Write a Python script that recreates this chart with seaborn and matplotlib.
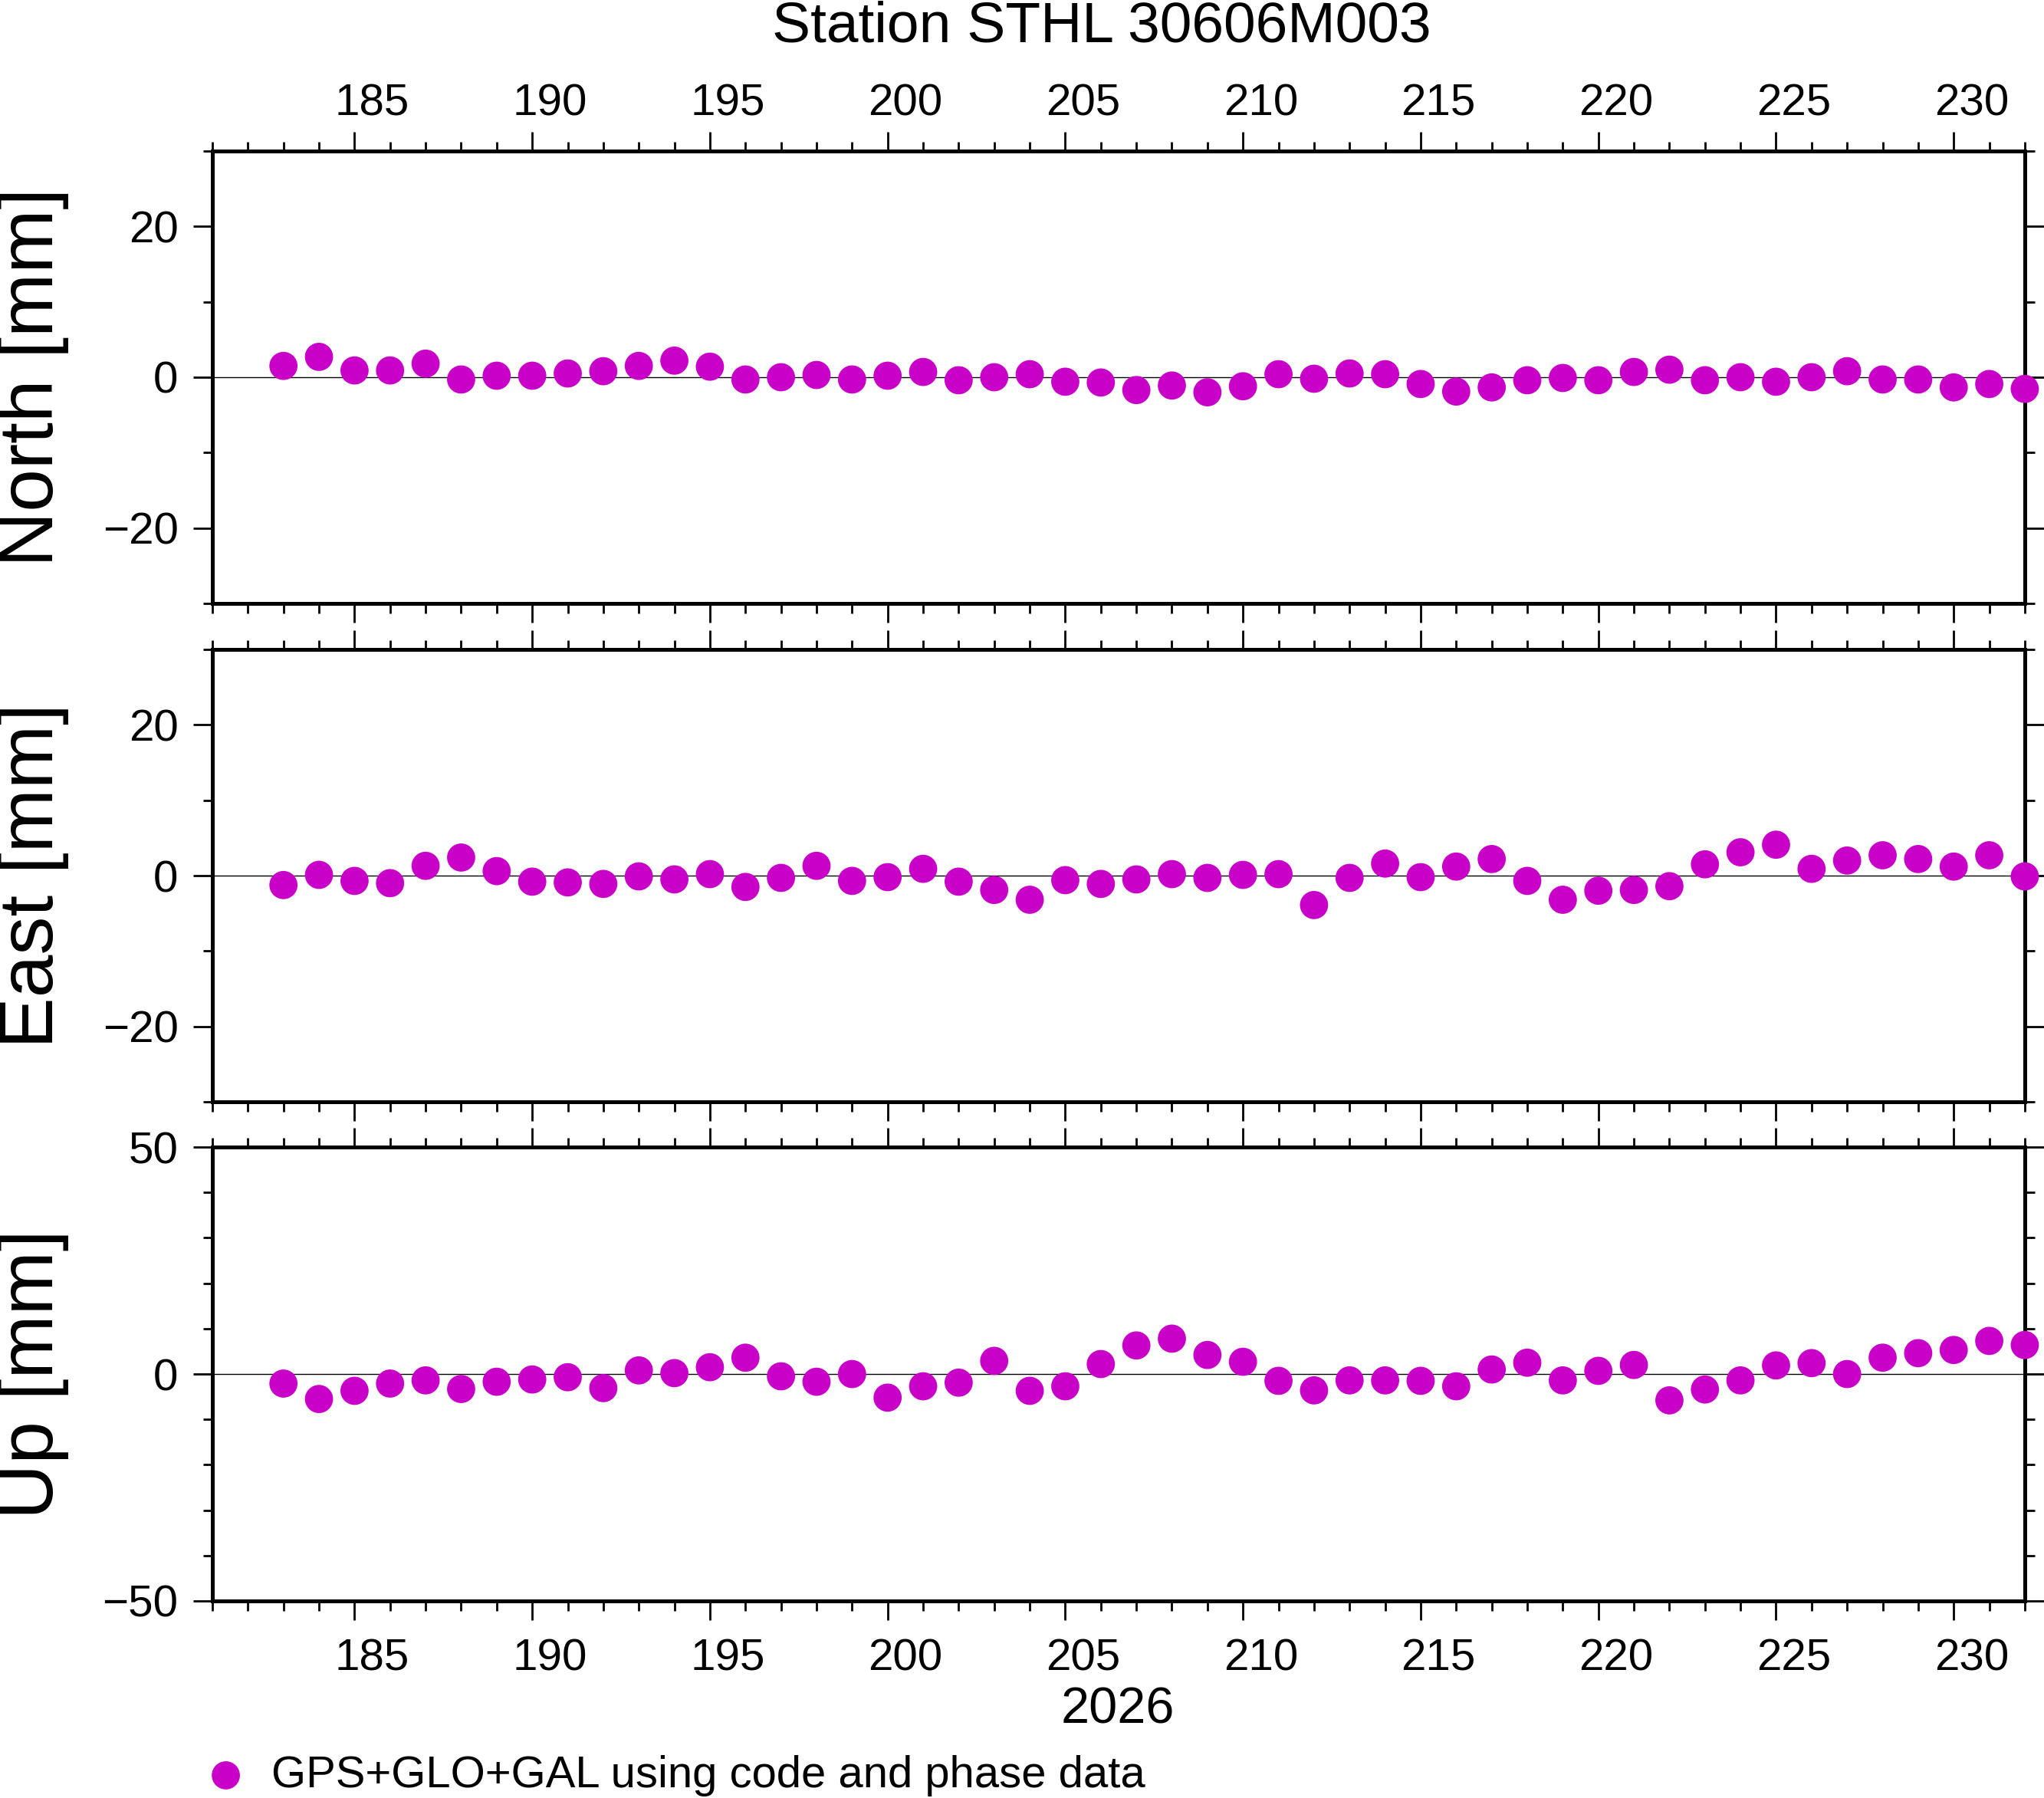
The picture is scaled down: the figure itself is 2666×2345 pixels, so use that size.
import numpy as np
import pandas as pd
import matplotlib
matplotlib.use('Agg')
import matplotlib.pyplot as plt
from matplotlib.ticker import MultipleLocator
from matplotlib.transforms import ScaledTranslation
import seaborn as sns

# day of year 2026
days = [183, 184, 185, 186, 187, 188, 189, 190, 191, 192,
        193, 194, 195, 196, 197, 198, 199, 200, 201, 202,
        203, 204, 205, 206, 207, 208, 209, 210, 211, 212,
        213, 214, 215, 216, 217, 218, 219, 220, 221, 222,
        223, 224, 225, 226, 227, 228, 229, 230, 231, 232]

# residuals in mm
north = [1.5, 2.7, 0.9, 0.9, 1.8, -0.3, 0.2, 0.2, 0.5, 0.8,
         1.5, 2.2, 1.4, -0.3, 0.0, 0.3, -0.3, 0.2, 0.7, -0.4,
         0.0, 0.4, -0.6, -0.7, -1.7, -1.1, -2.0, -1.2, 0.4, -0.2,
         0.5, 0.4, -0.9, -1.9, -1.35, -0.4, -0.1, -0.4, 0.7, 1.0,
         -0.4, 0.0, -0.6, 0.0, 0.8, -0.3, -0.3, -1.35, -0.9, -1.55]
east = [-1.25, 0.1, -0.7, -1.0, 1.3, 2.4, 0.6, -0.8, -0.9, -1.1,
        -0.1, -0.5, 0.2, -1.5, -0.3, 1.3, -0.7, -0.2, 0.9, -0.8,
        -1.9, -3.2, -0.6, -1.1, -0.5, 0.2, -0.3, 0.1, 0.2, -3.9,
        -0.3, 1.6, -0.2, 1.2, 2.2, -0.7, -3.2, -2.0, -1.9, -1.4,
        1.5, 3.1, 4.1, 0.9, 2.0, 2.7, 2.2, 1.2, 2.7, -0.1]
up = [-2.1, -5.5, -3.7, -2.1, -1.4, -3.3, -1.7, -1.2, -0.7, -3.1,
      0.8, 0.2, 1.5, 3.6, -0.5, -1.7, 0.0, -5.2, -2.7, -1.9,
      2.9, -3.7, -2.7, 2.2, 6.3, 7.8, 4.2, 2.7, -1.5, -3.6,
      -1.4, -1.4, -1.5, -2.7, 1.0, 2.5, -1.4, 0.7, 2.0, -5.8,
      -3.4, -1.4, 1.9, 2.4, 0.0, 3.6, 4.6, 5.3, 7.3, 6.4]

components = ['North', 'East', 'Up']
ylims = {'North': (-30, 30), 'East': (-30, 30), 'Up': (-50, 50)}
ymajor = {'North': 20, 'East': 20, 'Up': 50}
solution = 'GPS+GLO+GAL using code and phase data'
title = 'Station STHL 30606M003'
year = '2026'

df = pd.DataFrame({'day': days, 'North': north, 'East': east, 'Up': up})

sns.set_style('ticks')
plt.rcParams['font.family'] = ['Liberation Sans', 'DejaVu Sans']
plt.rcParams.update({'text.color': 'black', 'axes.labelcolor': 'black',
                     'xtick.color': 'black', 'ytick.color': 'black',
                     'axes.edgecolor': 'black', 'axes.linewidth': 1.8})

figw, figh = 13.33, 11.725
fig = plt.figure(figsize=(figw, figh), dpi=200)

# panel positions (figure fractions)
left, width = 0.1039, 0.8867
bottoms = [0.6644, 0.3872, 0.1096]
heights = [0.2516, 0.2516, 0.2524]
xmin, xmax = 181, 232

magenta = '#c800c8'
axes = []
for i, comp in enumerate(components):
    ax = fig.add_axes([left, bottoms[i], width, heights[i]])
    axes.append(ax)
    ax.axhline(0, color='black', lw=0.5, zorder=1)
    sns.scatterplot(data=df, x='day', y=comp, ax=ax, color=magenta, s=175,
                    linewidth=0, edgecolor='none', clip_on=False, zorder=3,
                    label=solution if i == 0 else None)
    ax.set_xlim(xmin, xmax)
    ax.set_ylim(*ylims[comp])
    ax.xaxis.set_major_locator(MultipleLocator(5))
    ax.xaxis.set_minor_locator(MultipleLocator(1))
    ax.yaxis.set_major_locator(MultipleLocator(ymajor[comp]))
    ax.yaxis.set_minor_locator(MultipleLocator(10))
    ax.tick_params(which='both', direction='out', width=1.0, labelsize=21,
                   top=True, bottom=True, left=True, right=True,
                   labelright=False, pad=7)
    ax.tick_params(which='major', length=9)
    ax.tick_params(which='minor', length=4.5)
    ax.tick_params(axis='x', labeltop=(i == 0), labelbottom=(i == 2),
                   pad=3.5 if i == 0 else 8.5)
    ax.set_xlabel('')
    ax.set_ylabel(f'{comp} [mm]', fontsize=36, va='center')
    ax.yaxis.set_label_coords(-0.099, 0.5)
    for sp in ax.spines.values():
        sp.set_linewidth(1.8)
        sp.set_visible(True)
    if ax.get_legend() is not None:
        ax.get_legend().remove()

handles, labels = axes[0].get_legend_handles_labels()
fig.legend(handles, labels, loc='center left', bbox_to_anchor=(0.0996, 0.0125),
           frameon=False, fontsize=20.9, handlelength=1.0, handletextpad=0.52,
           borderpad=0, borderaxespad=0)

fig.text(0.539, 0.985, title, ha='center', va='center', fontsize=27)
fig.text(0.547, 0.0487, year, ha='center', va='center', fontsize=24)

# day labels sit in the middle of the day interval, as in the GMT plot
fig.canvas.draw()
half_day = 0.5 * width * figw / (xmax - xmin)
shift = ScaledTranslation(half_day, 0, fig.dpi_scale_trans)
for ax in axes:
    for t in ax.xaxis.get_major_ticks():
        for lab in (t.label1, t.label2):
            lab.set_transform(lab.get_transform() + shift)

fig.savefig('out.png', dpi=200)
